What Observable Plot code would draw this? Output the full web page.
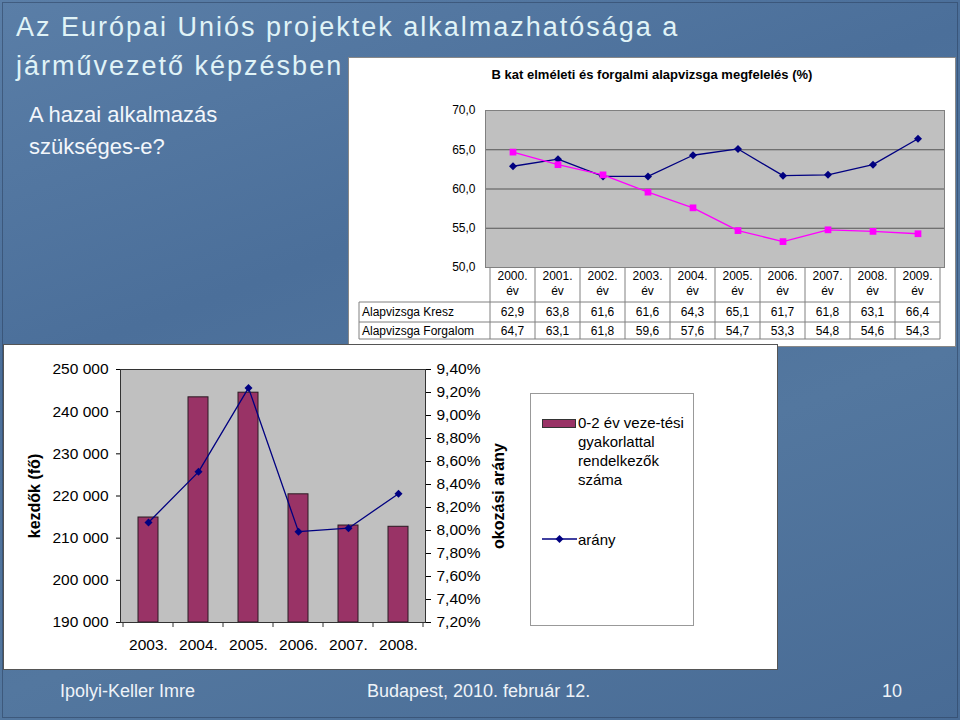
<!DOCTYPE html>
<html><head><meta charset="utf-8">
<script src="https://cdn.jsdelivr.net/npm/d3@7"></script>
<script src="https://cdn.jsdelivr.net/npm/@observablehq/plot@0.6"></script>
<style>
html,body{margin:0;padding:0;}
body{width:960px;height:720px;overflow:hidden;position:relative;
  background:linear-gradient(160deg,#5a7ea7 0%,#4b6f9a 35%,#53779f 65%,#486b95 100%);
  font-family:"Liberation Sans",Arial,sans-serif;}
.abs{position:absolute;}
.title{color:#e0f3f7;font-size:27px;letter-spacing:2px;white-space:nowrap;line-height:1;}
.sub{color:#f2f6fb;font-size:22px;white-space:nowrap;line-height:1;}
.foot{color:#eef3f8;font-size:18px;white-space:nowrap;line-height:1;}
.box{background:#fff;box-sizing:border-box;}
.rot{transform:translate(-50%,-50%) rotate(-90deg);font-weight:bold;font-size:16px;white-space:nowrap;color:#000;}
.leg{font-size:15px;line-height:19px;color:#000;white-space:nowrap;}
</style></head><body>
<div class="abs" style="left:2px;top:2px;width:954px;height:714px;border:1px solid rgba(40,60,90,0.5);"></div>
<div class="abs title" style="left:16px;top:14px;">Az Európai Uniós projektek alkalmazhatósága a</div>
<div class="abs title" style="left:16px;top:53px;">járművezető képzésben</div>
<div class="abs sub" style="left:29px;top:104px;">A hazai alkalmazás</div>
<div class="abs sub" style="left:29px;top:136px;">szükséges-e?</div>

<div class="abs box" id="topbox" style="left:348px;top:57px;width:608px;height:290px;border:1px solid #888;"></div>
<div class="abs" style="left:348px;top:67px;width:608px;text-align:center;font-weight:bold;font-size:13px;color:#000;">B kat elméleti és forgalmi alapvizsga megfelelés (%)</div>
<div class="abs" id="topchart" style="left:348px;top:57px;"></div>

<div class="abs box" id="botbox" style="left:3px;top:344px;width:775px;height:326px;border:1px solid #555;"></div>
<div class="abs" id="botchart" style="left:3px;top:344px;"></div>
<div class="abs rot" style="left:35px;top:496px;">kezdők (fő)</div>
<div class="abs rot" style="left:499px;top:496px;">okozási arány</div>

<div class="abs" style="left:530px;top:393px;width:164px;height:233px;border:1px solid #999;background:#fff;box-sizing:border-box;">
  <div class="abs" style="left:11px;top:25px;width:32px;height:7px;background:#993366;border:1px solid #333;"></div>
  <div class="abs leg" style="left:47px;top:19px;">0-2 év veze-tési<br>gyakorlattal<br>rendelkezők<br>száma</div>
  <svg class="abs" style="left:11px;top:138px;" width="36" height="14">
    <line x1="0" y1="7" x2="35" y2="7" stroke="#000080" stroke-width="1.3"/>
    <path d="M17.5,3 L21.5,7 L17.5,11 L13.5,7 Z" fill="#000080"/>
  </svg>
  <div class="abs leg" style="left:47px;top:136px;">arány</div>
</div>

<div class="abs foot" style="left:60px;top:682px;">Ipolyi-Keller Imre</div>
<div class="abs foot" style="left:367px;top:682px;">Budapest, 2010. február 12.</div>
<div class="abs foot" style="left:882px;top:682px;">10</div>

<script>
// ---- Top chart data ----
const yearsTop = ["2000.","2001.","2002.","2003.","2004.","2005.","2006.","2007.","2008.","2009."];
const kresz = [62.9,63.8,61.6,61.6,64.3,65.1,61.7,61.8,63.1,66.4];
const forgalom = [64.7,63.1,61.8,59.6,57.6,54.7,53.3,54.8,54.6,54.3];
const topYTicks = [50,55,60,65,70];
const topGrid = [55,60,65];
const seriesNames = ["Alapvizsga Kresz","Alapvizsga Forgalom"];

// ---- Bottom chart data ----
const botYears = ["2003.","2004.","2005.","2006.","2007.","2008."];
const kezdok = [214900,243400,244500,220400,213000,212700];
const arany = [8.07,8.51,9.24,7.99,8.02,8.32];
const leftDomain = [190000,250000];
const leftTicks = [190000,200000,210000,220000,230000,240000,250000];
const rightDomain = [7.2,9.4];
const rightTicks = [7.2,7.4,7.6,7.8,8.0,8.2,8.4,8.6,8.8,9.0,9.2,9.4];

const comma1 = d => d.toFixed(1).replace(".", ",");
const topData = yearsTop.map((y,i)=>({year:y, kresz:kresz[i], forgalom:forgalom[i]}));

const topChart = Plot.plot({
  width:608, height:290, marginLeft:137, marginRight:12, marginTop:53, marginBottom:80,
  style:{background:"transparent", fontFamily:"Liberation Sans, Arial, sans-serif", fontSize:"12px", color:"#000", overflow:"visible"},
  x:{type:"band", domain:yearsTop, padding:0, axis:null},
  y:{domain:[50,70], ticks:topYTicks, tickFormat:comma1, tickSize:0, tickPadding:10, label:null},
  marks:[
    Plot.frame({fill:"#c0c0c0"}),
    Plot.ruleY(topGrid, {stroke:"#555", strokeWidth:1}),
    Plot.frame({stroke:"#808080"}),
    Plot.line(topData,{x:"year", y:"kresz", stroke:"#000080", strokeWidth:1.3}),
    Plot.dot(topData,{x:"year", y:"kresz", symbol:"diamond2", r:3.6, fill:"#000080", stroke:"none"}),
    Plot.line(topData,{x:"year", y:"forgalom", stroke:"#ff00ff", strokeWidth:1.3}),
    Plot.dot(topData,{x:"year", y:"forgalom", symbol:"square", r:3.8, fill:"#ff00ff", stroke:"none"})
  ]
});
document.getElementById("topchart").appendChild(topChart);

// data table under the top chart, columns from the band scale
{
  const xs = topChart.scale("x");
  const bw = xs.bandwidth;
  const x0 = xs.apply(yearsTop[0]);
  const xEnd = xs.apply(yearsTop[yearsTop.length-1]) + bw;
  const plotBottom = 290 - 80;
  const tableLeft = 11;
  const rowLines = [plotBottom+35, plotBottom+55, plotBottom+72];
  const g = d3.select(topChart).append("g")
    .attr("font-family","Liberation Sans, Arial, sans-serif").attr("font-size",12).attr("fill","#000");
  const lineColor = "#808080";
  rowLines.forEach(y => g.append("line").attr("x1",tableLeft).attr("x2",xEnd).attr("y1",y).attr("y2",y).attr("stroke",lineColor));
  for (let k = 0; k <= yearsTop.length; k++) {
    const x = x0 + k*bw;
    g.append("line").attr("x1",x).attr("x2",x).attr("y1",plotBottom).attr("y2",rowLines[2]).attr("stroke",lineColor);
  }
  g.append("line").attr("x1",tableLeft).attr("x2",tableLeft).attr("y1",rowLines[0]).attr("y2",rowLines[2]).attr("stroke",lineColor);
  yearsTop.forEach(y => {
    const cx = xs.apply(y) + bw/2;
    g.append("text").attr("x",cx).attr("y",plotBottom+9).attr("dy","0.35em").attr("text-anchor","middle").text(y);
    g.append("text").attr("x",cx).attr("y",plotBottom+24).attr("dy","0.35em").attr("text-anchor","middle").text("év");
  });
  const rows = [kresz, forgalom];
  rows.forEach((vals, r) => {
    const cy = r === 0 ? plotBottom+45 : plotBottom+64;
    g.append("text").attr("x",tableLeft+3).attr("y",cy).attr("dy","0.35em").attr("text-anchor","start").text(seriesNames[r]);
    vals.forEach((v,i) => {
      const cx = xs.apply(yearsTop[i]) + bw/2;
      g.append("text").attr("x",cx).attr("y",cy).attr("dy","0.35em").attr("text-anchor","middle").text(comma1(v));
    });
  });
}

// ---- Bottom chart ----
const toLeft = r => leftDomain[0] + (r - rightDomain[0])/(rightDomain[1]-rightDomain[0])*(leftDomain[1]-leftDomain[0]);
const fromLeft = v => rightDomain[0] + (v - leftDomain[0])/(leftDomain[1]-leftDomain[0])*(rightDomain[1]-rightDomain[0]);
const spaceFmt = d3.formatLocale({decimal:",", thousands:" ", grouping:[3]}).format(",d");
const pctFmt = v => (Math.round(fromLeft(v)*100)/100).toFixed(2).replace(".",",") + "%";
const botData = botYears.map((y,i)=>({year:y, n:kezdok[i], r:arany[i]}));

const botChart = Plot.plot({
  width:775, height:326, marginLeft:117, marginRight:353, marginTop:25, marginBottom:48,
  style:{background:"transparent", fontFamily:"Liberation Sans, Arial, sans-serif", fontSize:"15.5px", color:"#000", overflow:"visible"},
  x:{type:"band", domain:botYears, paddingInner:0.6, paddingOuter:0.3, label:null},
  y:{domain:leftDomain, label:null},
  marks:[
    Plot.frame({fill:"#c0c0c0"}),
    Plot.axisY({ticks:leftTicks, tickSize:4, tickPadding:8, tickFormat:spaceFmt, label:null}),
    Plot.axisY({anchor:"right", ticks:rightTicks.map(toLeft), tickSize:5, tickPadding:6, tickFormat:pctFmt, label:null}),
    Plot.axisX({tickSize:0, tickPadding:16, label:null}),
    Plot.barY(botData,{x:"year", y1:leftDomain[0], y2:"n", fill:"#993366", stroke:"#2a1a22", strokeWidth:1}),
    Plot.line(botData,{x:"year", y:d=>toLeft(d.r), stroke:"#000080", strokeWidth:1.3}),
    Plot.dot(botData,{x:"year", y:d=>toLeft(d.r), symbol:"diamond2", r:3.6, fill:"#000080", stroke:"none"}),
    Plot.frame({stroke:"#333"})
  ]
});
document.getElementById("botchart").appendChild(botChart);
{
  const xs = botChart.scale("x");
  const bw = xs.bandwidth, step = xs.step;
  const first = xs.apply(botYears[0]) + bw/2 - step/2;
  const yb = 326 - 48;
  const g = d3.select(botChart).append("g");
  for (let k = 0; k <= botYears.length; k++) {
    const x = first + k*step;
    g.append("line").attr("x1",x).attr("x2",x).attr("y1",yb).attr("y2",yb+5).attr("stroke","#333");
  }
}
</script>
</body></html>
